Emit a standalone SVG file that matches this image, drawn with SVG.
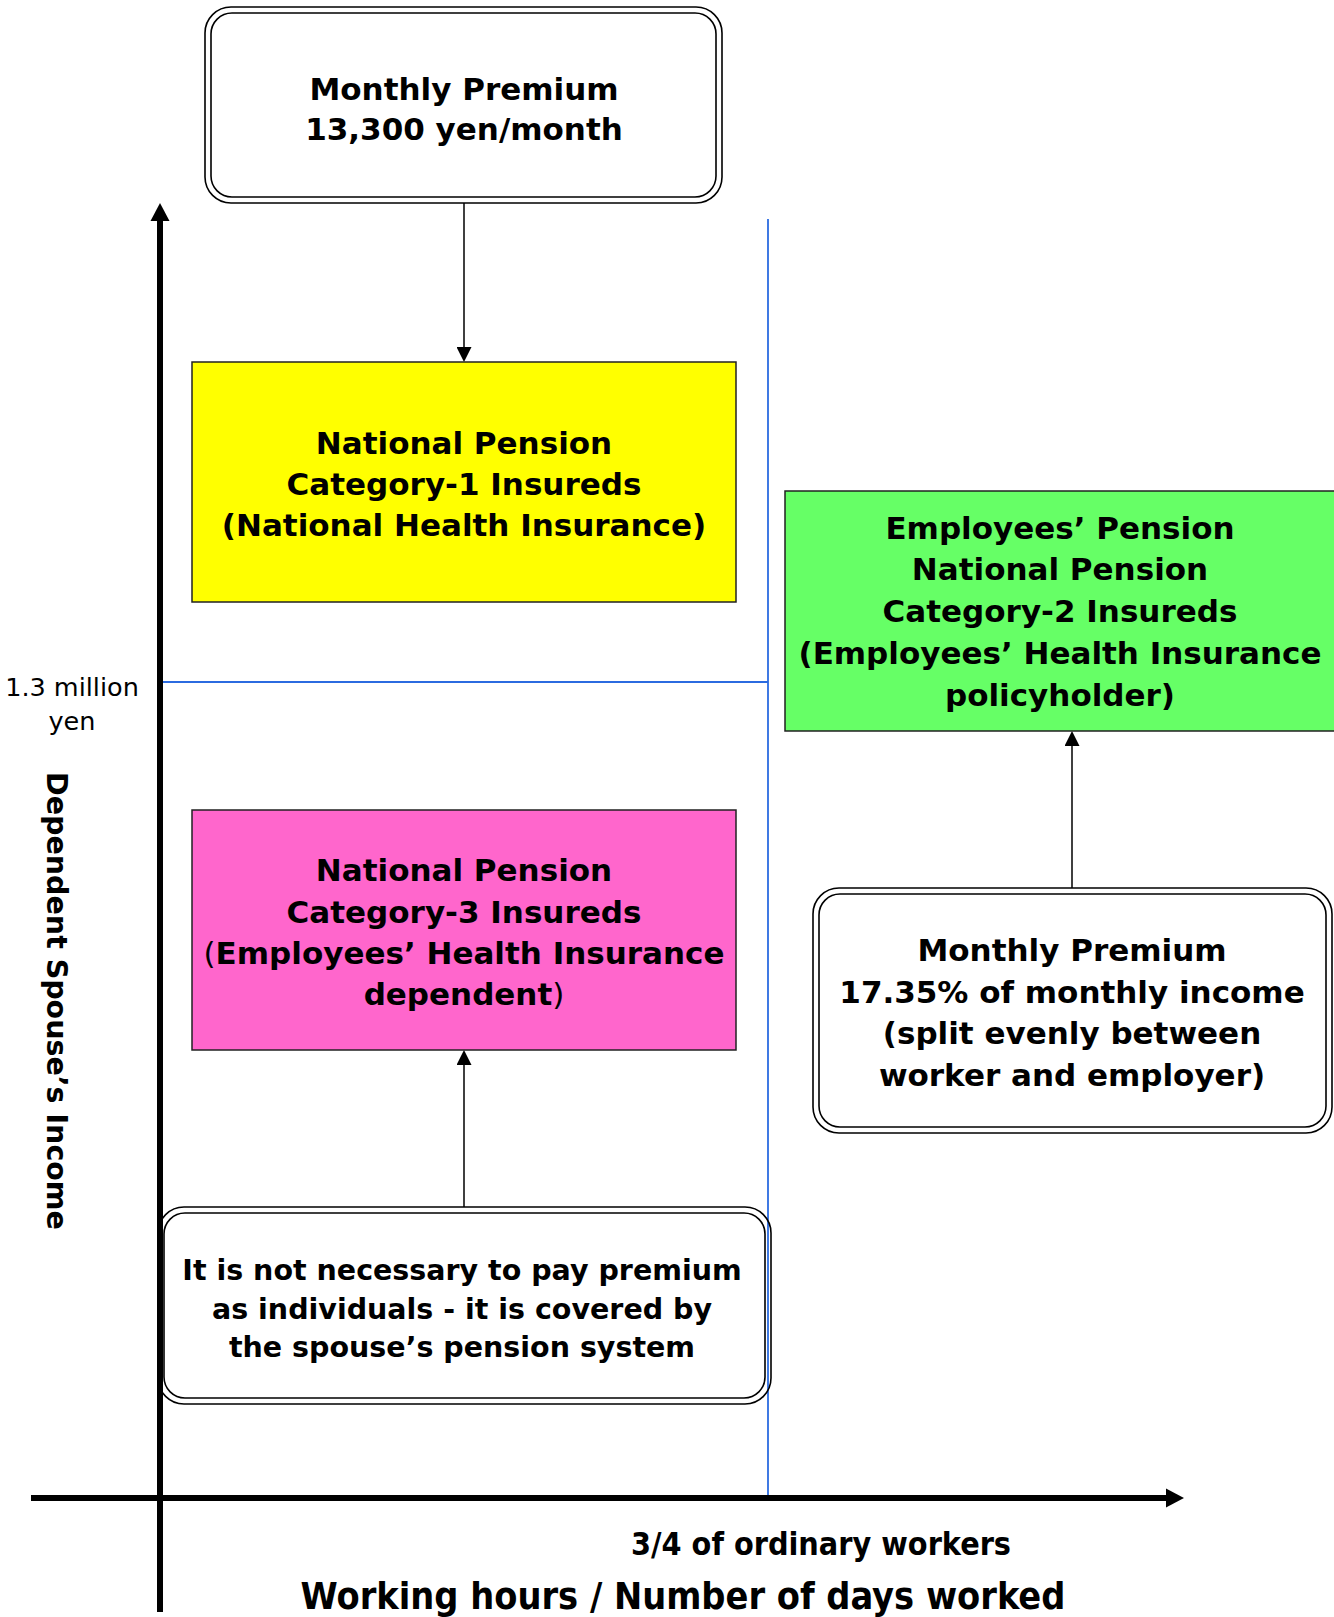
<svg xmlns="http://www.w3.org/2000/svg" width="1334" height="1617" viewBox="0 0 1334 1617">
<style>
.t{font-family:"DejaVu Sans","Liberation Sans",sans-serif;font-weight:bold;font-size:31px;fill:#000;text-anchor:middle}
.s{font-size:28.5px}
.c{font-family:"DejaVu Sans Condensed","DejaVu Sans",sans-serif;font-weight:bold;fill:#000;text-anchor:middle}
.r{font-family:"DejaVu Sans","Liberation Sans",sans-serif;font-size:25.5px;fill:#000;text-anchor:middle}
.n{font-weight:normal}
.box{stroke:#222;stroke-width:1.5}
.dbl{fill:none;stroke:#000;stroke-width:1.6}
.conn{stroke:#000;stroke-width:1.5;fill:none}
.axis{stroke:#000;stroke-width:6;fill:none}
.blue{stroke:#2B6BE0;stroke-width:1.8;fill:none}
</style>
<defs>
<marker id="ah" markerUnits="userSpaceOnUse" markerWidth="15" markerHeight="15" refX="0" refY="7.5" orient="auto">
<path d="M0,0 L15,7.5 L0,15 z" fill="#000"/>
</marker>
<marker id="axh" markerUnits="userSpaceOnUse" markerWidth="18" markerHeight="20" refX="0" refY="10" orient="auto">
<path d="M0,0.5 L18,10 L0,19.5 z" fill="#000"/>
</marker>
</defs>
<rect width="1334" height="1617" fill="#fff"/>

<g id="guides">
<line class="blue" x1="768" y1="219" x2="768" y2="1498"/>
<line class="blue" x1="160" y1="682" x2="768" y2="682"/>
</g>

<g id="connectors">
<line class="conn" x1="464" y1="203" x2="464" y2="347" marker-end="url(#ah)"/>
<line class="conn" x1="464" y1="1207" x2="464" y2="1065" marker-end="url(#ah)"/>
<line class="conn" x1="1072" y1="888" x2="1072" y2="746" marker-end="url(#ah)"/>
</g>

<g id="premium-top">
<rect x="205" y="7" width="517" height="196" rx="26" fill="#fff" class="dbl"/>
<rect x="211" y="13" width="505" height="184" rx="21" class="dbl"/>
<text class="t" x="464" y="100">Monthly Premium</text>
<text class="t" x="464" y="140">13,300 yen/month</text>
</g>

<g id="category1">
<rect class="box" x="192" y="362" width="544" height="240" fill="#FFFF00"/>
<text class="t" x="464" y="454">National Pension</text>
<text class="t" x="464" y="495">Category-1 Insureds</text>
<text class="t" x="464" y="536">(National Health Insurance)</text>
</g>

<g id="category2">
<rect class="box" x="785" y="491" width="560" height="240" fill="#66FF66"/>
<text class="t" x="1060" y="539">Employees’ Pension</text>
<text class="t" x="1060" y="580">National Pension</text>
<text class="t" x="1060" y="622">Category-2 Insureds</text>
<text class="t" x="1060" y="664">(Employees’ Health Insurance</text>
<text class="t" x="1060" y="706">policyholder)</text>
</g>

<g id="category3">
<rect class="box" x="192" y="810" width="544" height="240" fill="#FF66CC"/>
<text class="t" x="464" y="881">National Pension</text>
<text class="t" x="464" y="923">Category-3 Insureds</text>
<text class="t" x="464" y="964"><tspan class="n">(</tspan>Employees’ Health Insurance</text>
<text class="t" x="464" y="1005">dependent<tspan class="n">)</tspan></text>
</g>

<g id="premium-right">
<rect x="813" y="888" width="519" height="245" rx="26" fill="#fff" class="dbl"/>
<rect x="819" y="894" width="507" height="233" rx="21" class="dbl"/>
<text class="t" x="1072" y="961">Monthly Premium</text>
<text class="t" x="1072" y="1003">17.35% of monthly income</text>
<text class="t" x="1072" y="1044">(split evenly between</text>
<text class="t" x="1072" y="1086">worker and employer)</text>
</g>

<g id="no-premium">
<rect x="158" y="1207" width="613" height="197" rx="26" fill="#fff" class="dbl"/>
<rect x="164" y="1213" width="601" height="185" rx="21" class="dbl"/>
<text class="t s" x="462" y="1280">It is not necessary to pay premium</text>
<text class="t s" x="462" y="1319">as individuals - it is covered by</text>
<text class="t s" x="462" y="1357">the spouse’s pension system</text>
</g>

<g id="axes">
<line class="axis" x1="160" y1="1612" x2="160" y2="221" marker-end="url(#axh)"/>
<line class="axis" x1="31" y1="1498" x2="1166" y2="1498" marker-end="url(#axh)"/>
</g>

<g id="labels">
<text class="r" x="72" y="696">1.3 million</text>
<text class="r" x="72" y="730">yen</text>
<text class="t s" transform="translate(47,1001) rotate(90)" x="0" y="0">Dependent Spouse’s Income</text>
<text class="c" x="821" y="1555" font-size="32">3/4 of ordinary workers</text>
<text class="c" x="683" y="1609" font-size="37.5">Working hours / Number of days worked</text>
</g>
</svg>
